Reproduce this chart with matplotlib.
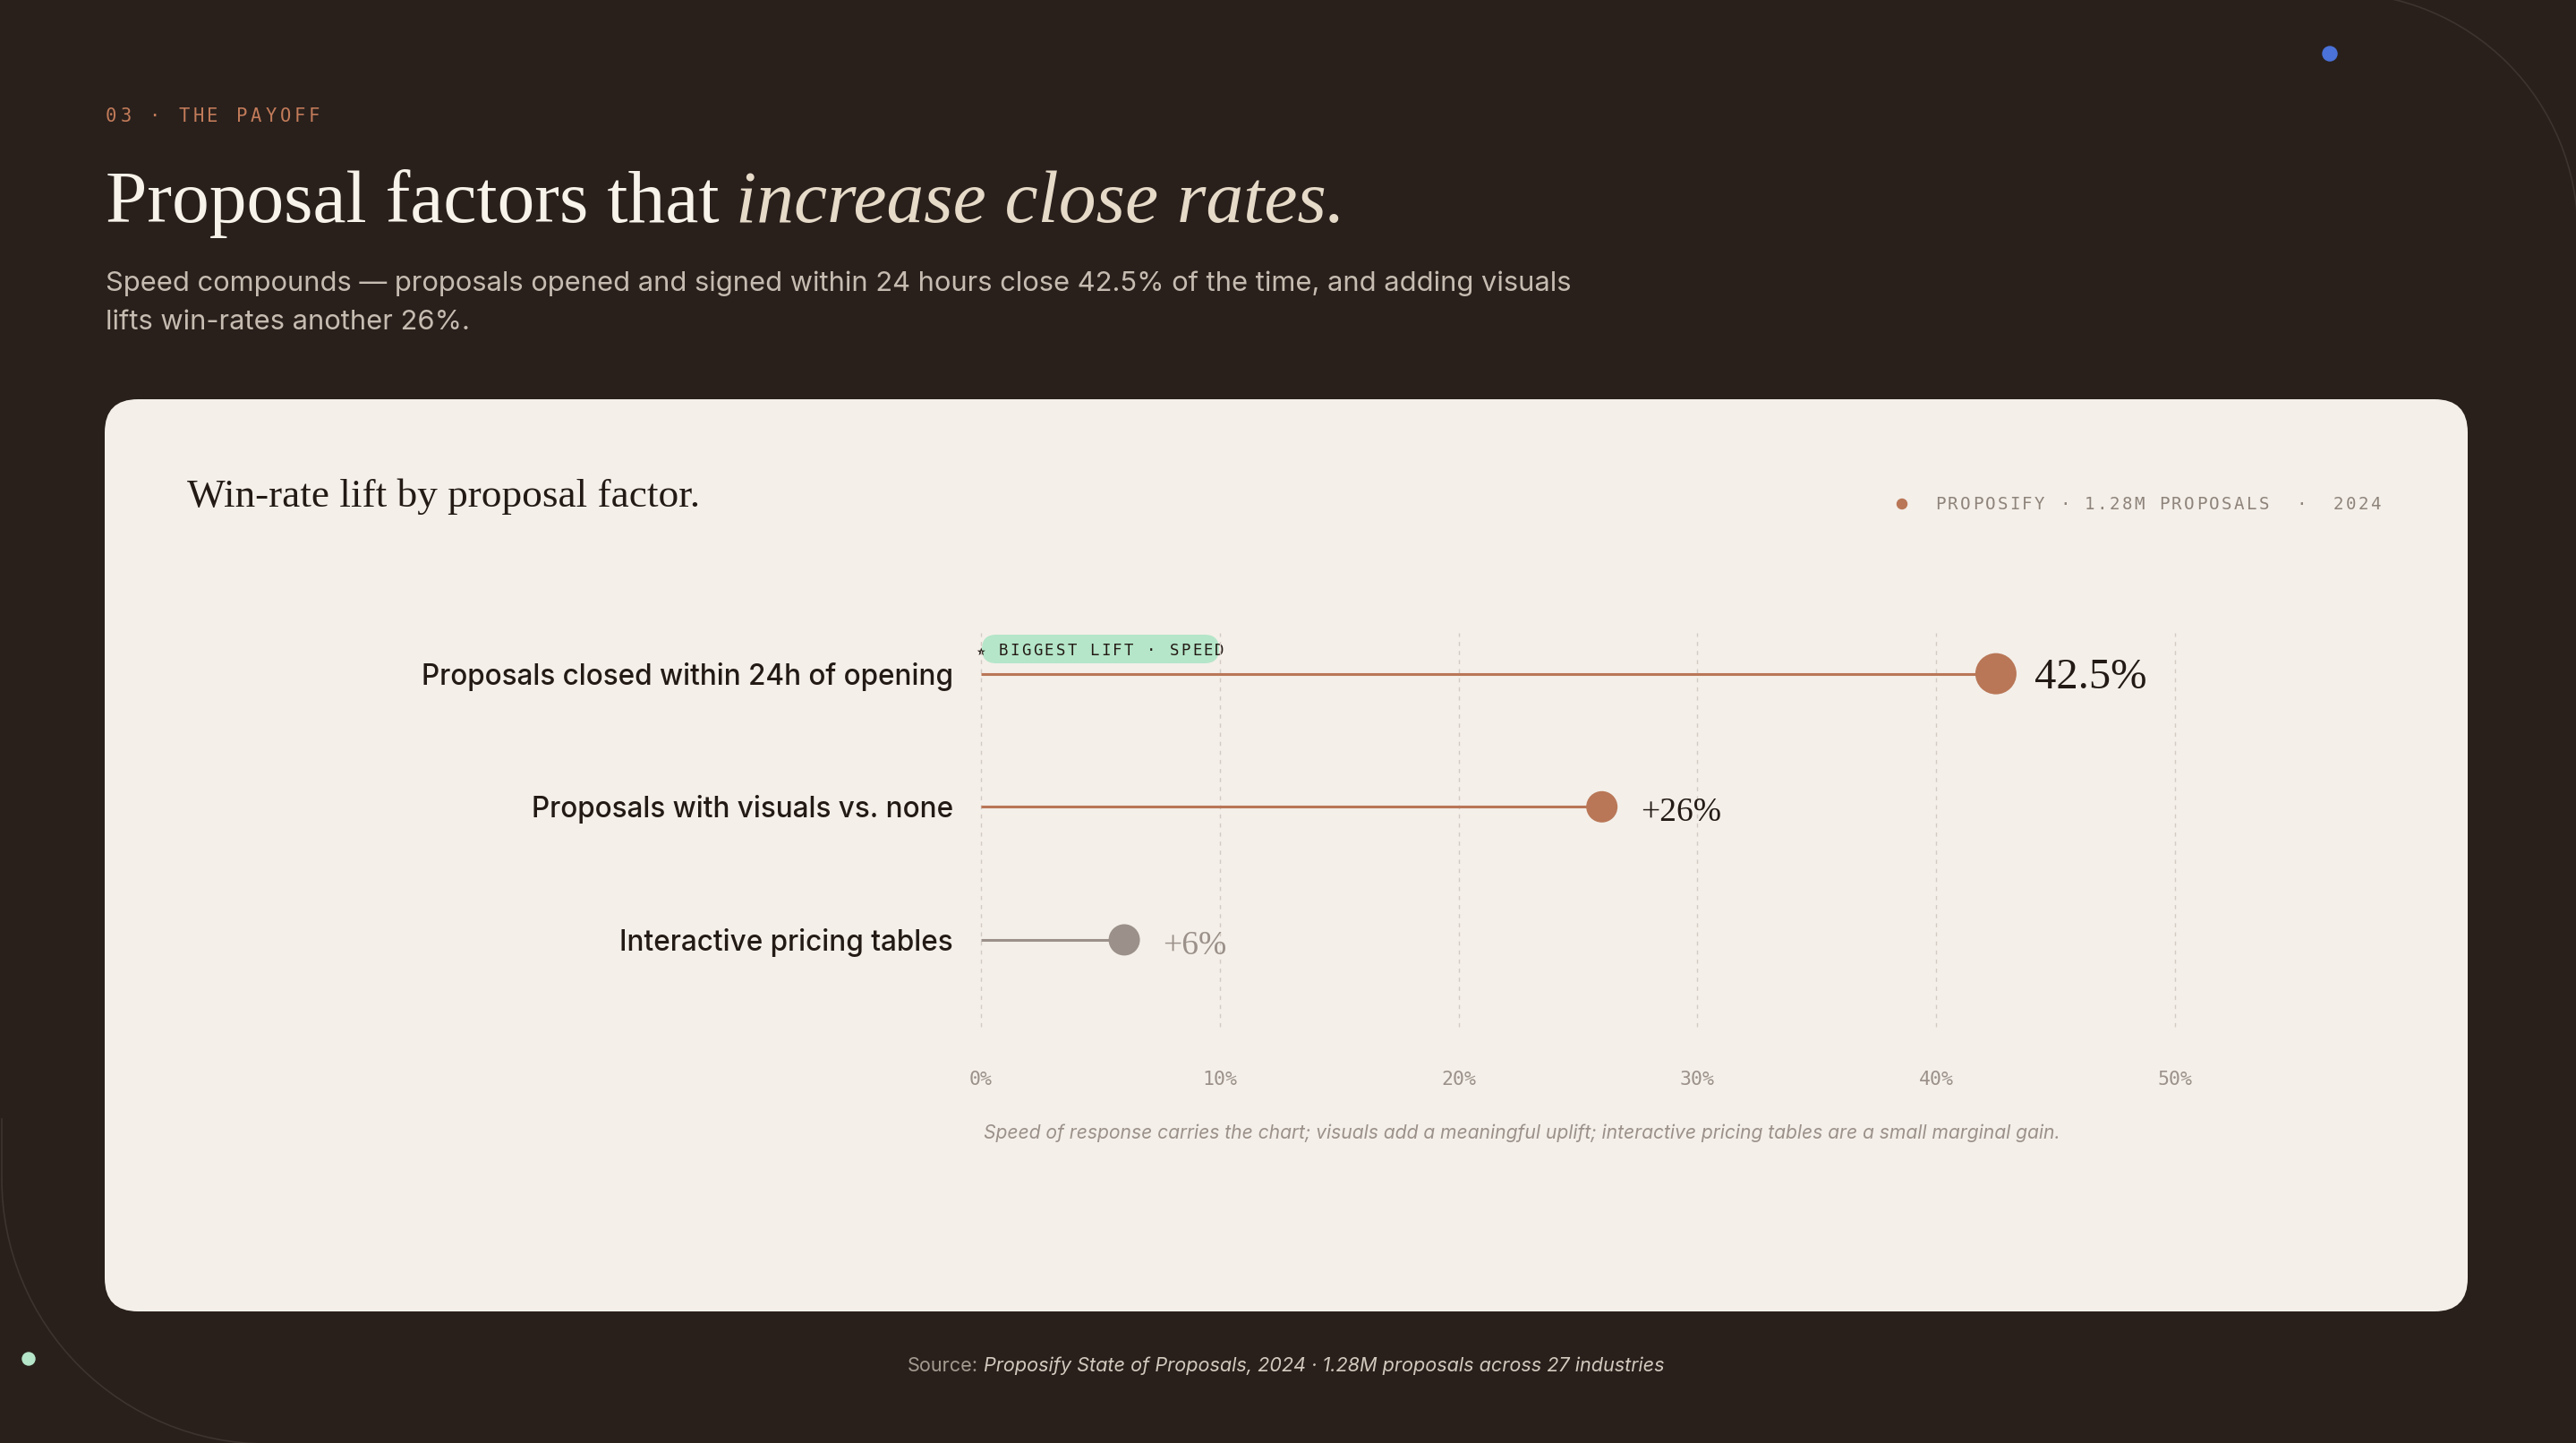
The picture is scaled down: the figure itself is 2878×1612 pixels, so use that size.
import matplotlib
matplotlib.use("Agg")
import matplotlib.pyplot as plt
from matplotlib.patches import FancyBboxPatch, Circle, Arc

# ---- data ----
factors = ["Proposals closed within 24h of opening",
           "Proposals with visuals vs. none",
           "Interactive pricing tables"]
lift = [42.5, 26, 6]
value_labels = ["42.5%", "+26%", "+6%"]
x_ticks = [0, 10, 20, 30, 40, 50]
x_tick_labels = ["0%", "10%", "20%", "30%", "40%", "50%"]

# ---- style ----
W, H, DPI = 2878, 1612, 100
BG = "#29201c"
CARD = "#f4efe9"
TERRA = "#b97757"
GREY = "#9b918a"
INK = "#231a15"
GRID = "#d3cbc3"
SERIF = "Liberation Serif"
SANS = "Inter"
MONO = "DejaVu Sans Mono"
line_colors = [TERRA, TERRA, GREY]
dot_px = [46, 35, 35]
value_sizes = [35, 27, 27]
value_colors = [INK, INK, GREY]

fig = plt.figure(figsize=(W / DPI, H / DPI), dpi=DPI, facecolor=BG)
renderer = fig.canvas.get_renderer()

# background layer in pixel coords (y down)
bg = fig.add_axes([0, 0, 1, 1])
bg.set_xlim(0, W)
bg.set_ylim(H, 0)
bg.axis("off")


def width(t):
    return t.get_window_extent(renderer=renderer).width


def fit(texts, target, gap=0):
    total = sum(width(t) for t in texts) + gap
    k = (target - gap) / (total - gap)
    for t in texts:
        t.set_fontsize(t.get_fontsize() * k)


def tracked(x, y, s, pitch, size, color):
    for i, ch in enumerate(s):
        bg.text(x + i * pitch, y, ch, family=MONO, fontsize=size, color=color,
                ha="left", va="baseline")


# decorative arcs + dots
bg.add_patch(Arc((2612, 260), 536, 536, theta1=270, theta2=360, color="#3d3430", lw=1.2))
bg.add_patch(Arc((298, 1317), 592, 592, theta1=90, theta2=180, color="#3d3430", lw=1.2))
bg.plot([2, 2], [1250, 1317], color="#3d3430", lw=1.2)
bg.add_patch(Circle((2603, 60), 8, color="#4a72d8"))
bg.add_patch(Circle((32, 1518), 7, color="#b5e6c9"))

# header
tracked(118, 136, "03 · THE PAYOFF", 16.2, 14.8, "#c27b59")
t1 = bg.text(118, 248, "Proposal factors that", family=SERIF, fontsize=60,
             color="#f7f2ea", ha="left", va="baseline")
t2 = bg.annotate("increase close rates.", xy=(1, 0), xycoords=t1,
                 xytext=(18, 0), textcoords="offset pixels",
                 family=SERIF, style="italic", fontsize=60, color="#e6dac8",
                 ha="left", va="bottom")
fit([t1, t2], 1386, gap=18)

s1 = bg.text(118, 325, "Speed compounds \u2014 proposals opened and signed within 24 hours "
             "close 42.5% of the time, and adding visuals",
             family=SANS, fontsize=24, color="#c6bcb1", ha="left", va="baseline")
fit([s1], 1639)
bg.text(118, 368, "lifts win-rates another 26%.", family=SANS,
        fontsize=s1.get_fontsize(), color="#c6bcb1", ha="left", va="baseline")

# card
bg.add_patch(FancyBboxPatch((117, 446), 2640, 1019,
                            boxstyle="round,pad=0,rounding_size=37",
                            fc=CARD, ec="none"))
ct = bg.text(209, 566, "Win-rate lift by proposal factor.", family=SERIF,
             fontsize=30, color=INK, ha="left", va="baseline")
fit([ct], 572)

bg.add_patch(Circle((2125, 563), 5.5, color=TERRA))
tracked(2162, 569, "PROPOSIFY · 1.28M PROPOSALS  ·  2024", 13.9, 13.8, "#8e847b")

# badge
bg.add_patch(FancyBboxPatch((1097, 709), 265, 32,
                            boxstyle="round,pad=0,rounding_size=16",
                            fc="#b5e6c9", ec="none"))
bg.text(1095, 732, "\u2605", family="DejaVu Sans", fontsize=8.5, color=INK,
        ha="center", va="baseline")
tracked(1116, 732, "BIGGEST LIFT · SPEED", 12.7, 12.5, INK)

# ---- chart ----
x0, x1, y0, y1 = 1096, 2430, 707, 1147
ax = fig.add_axes([x0 / W, 1 - y1 / H, (x1 - x0) / W, (y1 - y0) / H])
ax.set_facecolor("none")
rows = list(range(len(factors)))
ax.set_xlim(0, 50)
ax.set_ylim(2.653, -0.307)
for s in ax.spines.values():
    s.set_visible(False)
ax.set_yticks([])
ax.set_xticks(x_ticks)
ax.set_xticklabels(x_tick_labels, family=MONO, fontsize=15.5, color=GREY)
ax.tick_params(axis="x", length=0, pad=35)
ax.vlines(x_ticks, 2.653, -0.307, color=GRID, lw=1.0, linestyle=(0, (3.3, 4)),
          clip_on=False, zorder=1)

ax.hlines(rows, 0, lift, colors=line_colors, lw=2.2, zorder=2)
ax.scatter(lift, rows, s=[(d * 0.72) ** 2 for d in dot_px], c=line_colors,
           zorder=3, clip_on=False, linewidths=0)

labs = []
for i, name in enumerate(factors):
    labs.append(ax.annotate(name, (0, i), xytext=(-31, -12), textcoords="offset pixels",
                            family=SANS, fontweight="medium", fontsize=22, color=INK,
                            ha="right", va="baseline", annotation_clip=False))
    ax.annotate(value_labels[i], (lift[i], i), xytext=(43, -16), textcoords="offset pixels",
                family=SERIF, fontsize=value_sizes[i], color=value_colors[i],
                ha="left", va="baseline", annotation_clip=False)
k = 594 / width(labs[0])
for t in labs:
    t.set_fontsize(t.get_fontsize() * k)

note = bg.text(1099, 1272, "Speed of response carries the chart; visuals add a meaningful "
               "uplift; interactive pricing tables are a small marginal gain.",
               family=SANS, style="italic", fontsize=14, color=GREY,
               ha="left", va="baseline")
fit([note], 1205)

# source
src1 = bg.text(1014, 1532, "Source:", family=SANS, fontsize=14, color="#a39a90",
               ha="left", va="baseline")
src2 = bg.annotate("Proposify State of Proposals, 2024 \u00b7 1.28M proposals across 27 industries",
                   xy=(1, 0), xycoords=src1, xytext=(6, 0), textcoords="offset pixels",
                   family=SANS, style="italic", fontsize=14, color="#d2c9be",
                   ha="left", va="bottom")
fit([src1, src2], 846, gap=6)

fig.savefig("out.png", dpi=DPI, facecolor=BG)
